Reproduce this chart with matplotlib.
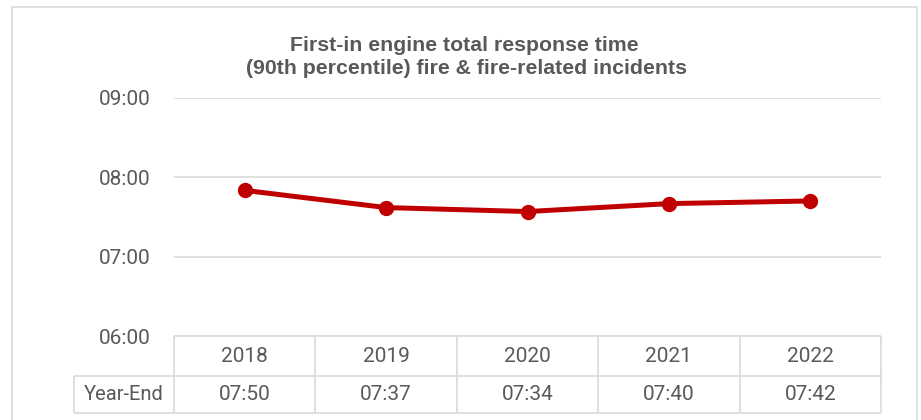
import matplotlib
matplotlib.use("Agg")
import matplotlib.pyplot as plt
from matplotlib.patches import Rectangle

# ---- data ----
title_lines = ["First-in engine total response time",
               "(90th percentile) fire & fire-related incidents"]
years = ["2018", "2019", "2020", "2021", "2022"]
series_name = "Year-End"
times = ["07:50", "07:37", "07:34", "07:40", "07:42"]
y_ticks = ["06:00", "07:00", "08:00", "09:00"]

def to_hours(s):
    h, m = s.split(":")
    return int(h) + int(m) / 60.0

values = [to_hours(t) for t in times]
tick_vals = [to_hours(t) for t in y_ticks]

# ---- style ----
W, H = 921, 420
RED = "#C00000"
GRID = "#D9D9D9"
TXT = "#595959"
FONT = "Roboto"

fig = plt.figure(figsize=(W / 100, H / 100), dpi=100)

def fx(px):
    return px / W

def fy(py):
    return 1 - py / H

# outer border
fig.patches.append(Rectangle((fx(12), fy(421)), fx(917) - fx(12), fy(7) - fy(421),
                             transform=fig.transFigure, fill=False,
                             edgecolor=GRID, linewidth=1.2))

left, right, top, bottom = 174, 881, 97.7, 336
ax = fig.add_axes([fx(left), fy(bottom), fx(right) - fx(left), fy(top) - fy(bottom)])

x = list(range(len(years)))
ax.plot(x, values, color=RED, linewidth=3.6, marker="o", markersize=10,
        solid_capstyle="round", zorder=3)

ax.set_xlim(-0.5, len(years) - 0.5)
ax.set_ylim(tick_vals[0], tick_vals[-1])
ax.set_yticks(tick_vals)
ax.set_yticklabels(y_ticks, fontsize=15, color=TXT, family=FONT)
ax.set_xticks([])
ax.tick_params(axis="y", length=0, pad=17)
ax.grid(axis="y", color=GRID, linewidth=1.2)
ax.set_axisbelow(True)
for s in ax.spines.values():
    s.set_visible(False)

# ---- data table below the axes ----
plot_h = bottom - top
row1 = (376 - bottom) / plot_h
row2 = (413 - bottom) / plot_h
label_left = (74 - left) / (right - left)
tr = ax.get_xaxis_transform()
kw = dict(color=GRID, linewidth=1.2, clip_on=False, solid_capstyle="butt")
# horizontal lines
ax.plot([0, 1], [0, 0], transform=ax.transAxes, **kw)
ax.plot([label_left, 1], [-row1, -row1], transform=ax.transAxes, **kw)
ax.plot([label_left, 1], [-row2, -row2], transform=ax.transAxes, **kw)
# vertical lines
ax.plot([label_left, label_left], [-row1, -row2], transform=ax.transAxes, **kw)
for b in [i - 0.5 for i in range(len(years) + 1)]:
    ax.plot([b, b], [0, -row2], transform=tr, **kw)

for i, (yr, t) in enumerate(zip(years, times)):
    ax.text(i, -row1 / 2, yr, transform=tr, ha="center", va="center",
            fontsize=15, color=TXT, family=FONT)
    ax.text(i, -(row1 + row2) / 2, t, transform=tr, ha="center", va="center",
            fontsize=15, color=TXT, family=FONT)
ax.text(label_left / 2, -(row1 + row2) / 2, series_name, transform=ax.transAxes,
        ha="center", va="center", fontsize=14.5, color=TXT, family=FONT)

# ---- title ----
fig.text(fx(464.5), fy(51), title_lines[0], ha="center", va="baseline",
         fontsize=15.3, fontweight="bold", color=TXT, family="Liberation Sans")
fig.text(fx(466), fy(73.5), title_lines[1], ha="center", va="baseline",
         fontsize=15.3, fontweight="bold", color=TXT, family="Liberation Sans")

fig.savefig("out.png", dpi=100)
